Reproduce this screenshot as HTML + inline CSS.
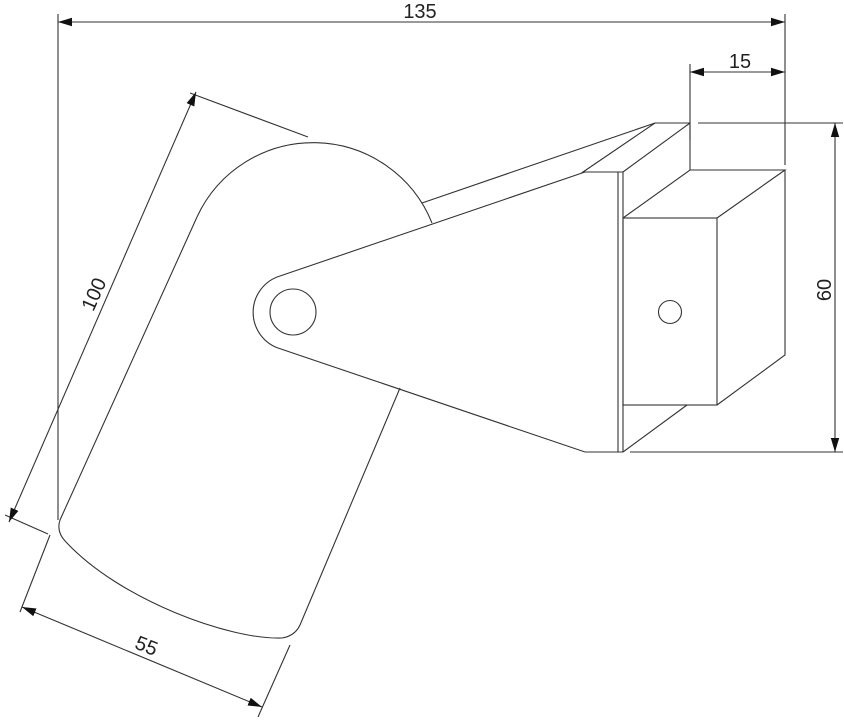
<!DOCTYPE html>
<html><head><meta charset="utf-8"><style>
html,body{margin:0;padding:0;background:#fff;}
svg{display:block}
text{font-family:"Liberation Sans","DejaVu Sans",sans-serif;font-size:20px;fill:#222;}
</style></head><body>
<svg width="844" height="720" viewBox="0 0 844 720" xmlns="http://www.w3.org/2000/svg">
<defs>
<marker id="a" viewBox="0 0 10 10" refX="10" refY="5" markerWidth="14" markerHeight="14" markerUnits="userSpaceOnUse" orient="auto-start-reverse"><path d="M0,2 L10,5 L0,8 z" fill="#111"/></marker>
</defs>
<g fill="none" stroke="#333" stroke-width="1.1">
<line x1="58" y1="14" x2="58" y2="520"/>
<line x1="785" y1="14" x2="785" y2="165"/>
<line x1="690" y1="64" x2="690" y2="140"/>
<line x1="698" y1="123" x2="843" y2="123"/>
<line x1="630" y1="452" x2="843" y2="452"/>
<line x1="190" y1="93" x2="308" y2="137"/>
<line x1="5" y1="515" x2="48" y2="534"/>
<line x1="50" y1="535" x2="20" y2="612"/>
<line x1="290" y1="645" x2="258" y2="717"/>
<line x1="58" y1="22" x2="785" y2="22" marker-start="url(#a)" marker-end="url(#a)"/>
<line x1="690" y1="72" x2="785" y2="72" marker-start="url(#a)" marker-end="url(#a)"/>
<line x1="835" y1="123" x2="835" y2="452" marker-start="url(#a)" marker-end="url(#a)"/>
<line x1="196" y1="92" x2="9" y2="522" marker-start="url(#a)" marker-end="url(#a)"/>
<line x1="22" y1="607" x2="262" y2="707" marker-start="url(#a)" marker-end="url(#a)"/>
<path d="M197,217 A128,128 0 0 1 432,223"/>
<path d="M197,217 L60,520 Q56,532 66,542 C120,600 230,640 282,638 Q295,636 300,625 L400,388"/>
<path d="M422,203 L655,123"/>
<path d="M280,276 L585,172"/>
<path d="M280,276 A38,38 0 0 0 278,348 L585,452 L623,452"/>
<circle cx="293" cy="312" r="23"/>
<path d="M655,123 L690,123 L690,170"/>
<path d="M655,123 L583,172 L623,172"/>
<path d="M690,123 L623,172"/>
<line x1="618" y1="172" x2="618" y2="452"/>
<line x1="623" y1="172" x2="623" y2="452"/>
<rect x="623" y="218" width="94" height="187"/>
<path d="M623,218 L690,170 L785,170 L717,218"/>
<path d="M785,170 L785,355 L717,405"/>
<path d="M687,405 L623,452"/>
<circle cx="670" cy="312" r="11.5"/>
</g>
<text x="420" y="18" text-anchor="middle">135</text>
<text x="740" y="68" text-anchor="middle">15</text>
<text transform="translate(831,290) rotate(-90)" text-anchor="middle">60</text>
<text transform="translate(100,297) rotate(-66)" text-anchor="middle">100</text>
<text transform="translate(144,652) rotate(22)" text-anchor="middle">55</text>
</svg>
</body></html>
